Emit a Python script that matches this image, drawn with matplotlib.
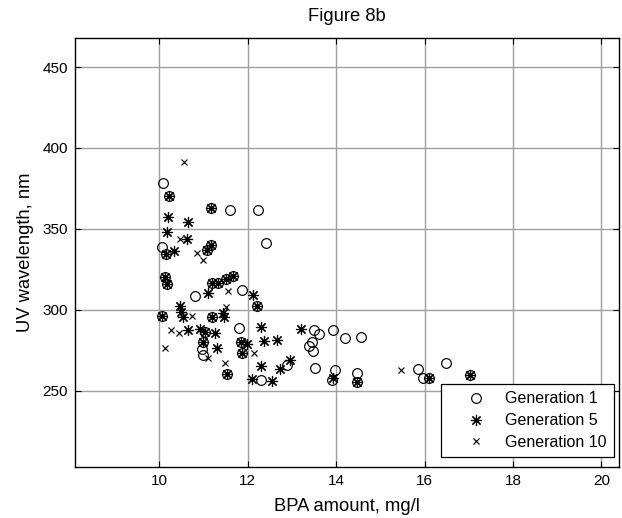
import matplotlib
matplotlib.use("Agg")
import matplotlib.pyplot as plt

plt.rcParams['font.family'] = ['Liberation Sans', 'DejaVu Sans']

# Generation 1 (circles)
g1_x = [10.09, 10.22, 10.07, 10.15, 11.09, 11.17, 11.17, 11.60, 12.23, 12.41,
        10.12, 10.17, 11.20, 11.33, 11.50, 11.67, 10.81, 11.88, 12.20, 10.06,
        11.20, 11.80, 11.04, 11.00, 10.96, 11.00, 11.85, 11.86, 11.54, 12.30,
        12.90, 13.50, 13.62, 13.94, 14.20, 14.56, 13.45, 13.38, 13.47, 13.52,
        13.97, 13.90, 14.47, 14.47, 15.86, 15.97, 16.11, 16.48, 17.03]
g1_y = [378.5, 370.0, 338.6, 334.4, 337.0, 340.0, 362.7, 361.6, 361.6, 341.0,
        320.0, 316.0, 316.7, 316.3, 318.8, 320.8, 308.7, 312.2, 302.4, 296.0,
        295.3, 288.9, 286.4, 280.2, 275.5, 272.0, 280.0, 273.0, 260.4, 256.5,
        266.0, 287.4, 285.0, 287.5, 282.3, 282.9, 280.0, 277.5, 274.5, 263.7,
        262.7, 256.5, 260.6, 255.1, 263.3, 257.9, 257.5, 266.8, 259.6]

# Generation 5 (asterisks)
g5_x = [10.22, 10.15, 11.09, 11.17, 11.17, 10.12, 10.17, 11.20, 11.33, 11.50,
        11.67, 12.20, 10.06, 11.20, 11.04, 11.00, 11.85, 11.86, 11.54, 14.47,
        16.11, 17.03,
        10.20, 10.66, 10.17, 10.62, 10.34, 11.11, 12.13, 10.47, 10.50, 10.54,
        10.66, 10.92, 11.46, 11.45, 11.26, 11.30, 12.29, 12.38, 12.66, 13.21,
        11.98, 12.30, 12.72, 12.96, 12.10, 12.54, 13.94]
g5_y = [370.0, 334.4, 337.0, 340.0, 362.7, 320.0, 316.0, 316.7, 316.3, 318.8,
        320.8, 302.4, 296.0, 295.3, 286.4, 280.2, 280.0, 273.0, 260.4, 255.1,
        257.5, 259.6,
        357.0, 354.0, 348.0, 344.0, 336.0, 310.0, 309.0, 302.0, 298.7, 295.6,
        287.6, 287.8, 295.6, 297.7, 285.4, 276.1, 289.0, 280.6, 281.2, 288.0,
        278.5, 265.3, 263.0, 268.8, 257.0, 256.0, 258.0]

# Generation 10 (crosses)
g10_x = [10.57, 10.47, 10.86, 11.00, 11.56, 11.50, 10.75, 10.27, 10.44, 10.13,
         11.10, 11.49, 12.14, 15.46]
g10_y = [391.5, 343.5, 334.8, 330.5, 311.3, 301.4, 296.0, 287.2, 285.5, 276.6,
         270.1, 267.3, 273.0, 262.7]

x_ticks = [10, 12, 14, 16, 18, 20]
y_ticks = [250, 300, 350, 400, 450]

fig = plt.figure(figsize=(6.22, 5.18), dpi=100)
ax = fig.add_axes([75 / 622, 1 - 467 / 518, 544 / 622, 429 / 518])

ax.plot(g1_x, g1_y, linestyle='none', marker='o', markersize=7,
        markerfacecolor='none', markeredgecolor='black', markeredgewidth=0.85,
        label='Generation 1')
ax.plot(g5_x, g5_y, linestyle='none', marker=(8, 2, 0), markersize=8,
        color='black', markeredgewidth=0.85, label='Generation 5')
ax.plot(g10_x, g10_y, linestyle='none', marker='x', markersize=4,
        color='black', markeredgewidth=0.85, label='Generation 10')

ax.set_xlim(8.093, 20.40)
ax.set_ylim(202.7, 468.0)
ax.set_xticks(x_ticks)
ax.set_yticks(y_ticks)
ax.grid(True, color='#a0a0a0', linewidth=1.0, linestyle='-')
ax.set_axisbelow(True)
ax.tick_params(direction='in', top=True, right=True, length=4, labelsize=11,
               width=0.8, pad=5)
for s in ax.spines.values():
    s.set_linewidth(1.0)

ax.set_xlabel('BPA amount, mg/l', fontsize=13.2, labelpad=7)
ax.set_ylabel('UV wavelength, nm', fontsize=13.2, labelpad=6)
ax.set_title('Figure 8b', fontsize=13.2, pad=12)

leg = ax.legend(loc='lower right', bbox_to_anchor=(0.9908, 0.0233),
                borderaxespad=0, fancybox=False, edgecolor='black',
                framealpha=1, fontsize=11.5, handlelength=3.4,
                handletextpad=0.15, borderpad=0.45, labelspacing=0.42)
leg.get_frame().set_linewidth(0.9)

fig.savefig('out.png', dpi=100)
